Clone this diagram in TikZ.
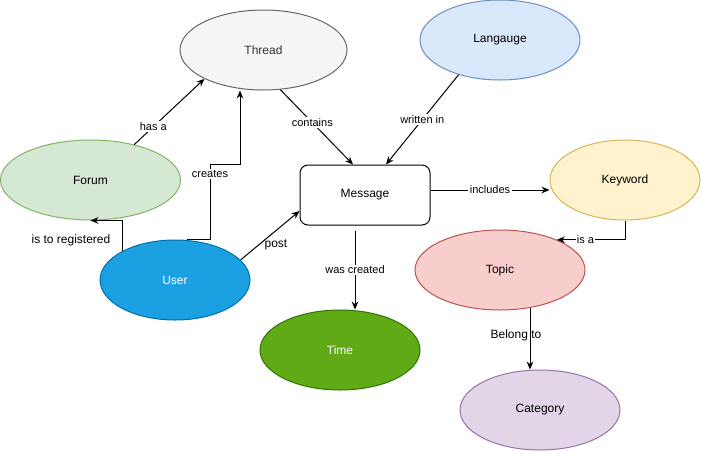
\documentclass[tikz,border=0pt]{standalone}
\usepackage{fontspec}
\setmainfont{Liberation Sans}
\usetikzlibrary{arrows.meta,shapes.geometric,calc}
\definecolor{threadfill}{HTML}{F5F5F5}
\definecolor{threaddraw}{HTML}{666666}
\definecolor{threadtext}{HTML}{333333}
\definecolor{forumfill}{HTML}{D5E8D4}
\definecolor{forumdraw}{HTML}{82B366}
\definecolor{langfill}{HTML}{DAE8FC}
\definecolor{langdraw}{HTML}{6C8EBF}
\definecolor{keyfill}{HTML}{FFF2CC}
\definecolor{keydraw}{HTML}{D6B656}
\definecolor{userfill}{HTML}{1BA1E2}
\definecolor{userdraw}{HTML}{006EAF}
\definecolor{timefill}{HTML}{60A917}
\definecolor{timedraw}{HTML}{2D7600}
\definecolor{topicfill}{HTML}{F8CECC}
\definecolor{topicdraw}{HTML}{B85450}
\definecolor{catfill}{HTML}{E1D5E7}
\definecolor{catdraw}{HTML}{9673A6}

\begin{document}
\begin{tikzpicture}[x=0.75pt, y=-0.75pt,
		>={Stealth[length=6pt,width=5pt]},
		ent/.style n args={4}{ellipse, draw=#2, fill=#1, line width=0.75pt, minimum width=#3*0.75pt, minimum height=#4*0.75pt, inner sep=0pt, font=\fontsize{9}{11}\selectfont},
		txt/.style={inner sep=1pt, font=\fontsize{9}{11}\selectfont},
		lbl/.style={fill=white, inner sep=1pt, font=\fontsize{8.25}{10}\selectfont},
		link/.style={->, line width=0.75pt}]
			\useasboundingbox (0,0) rectangle (701,451);
			% entities
			\node[ent={threadfill}{threaddraw}{167}{80}, text=threadtext] (Thread) at (263.5,50) {Thread};
			\node[ent={forumfill}{forumdraw}{180}{80}] (Forum) at (90.5,180) {Forum};
			\node[ent={langfill}{langdraw}{160}{80}] (Lang) at (500,40) {Langauge};
			\node[ent={keyfill}{keydraw}{150}{80}] (Keyword) at (625,180) {Keyword};
			\node[ent={userfill}{userdraw}{150}{80}, text=white] (User) at (175,280) {User};
			\node[ent={timefill}{timedraw}{160}{80}, text=white] (Time) at (340,350) {Time};
			\node[ent={topicfill}{topicdraw}{170}{80}] (Topic) at (500,270) {Topic};
			\node[ent={catfill}{catdraw}{160}{80}] (Category) at (540,410) {Category};
			\node[draw, fill=white, rounded corners=6pt, line width=0.75pt, minimum width=130*0.75pt, minimum height=60*0.75pt, font=\fontsize{9}{11}\selectfont] (Message) at (365,195) {Message};
			% relations
			\draw[link] (Forum.39) -- node[lbl, pos=0.27] {has a} (Thread.206);
			\draw[link] ($(User.north)+(12,0)$) -- ++(23,0) -- node[lbl, pos=0.87] {creates} ++(0,-75) -| ($(Thread.south)+(-23.5,0)$);
			\draw[link] (User.151) |- (Forum.south);
			\node[txt] (regLbl) at (71,240) {is to registered};
			\draw[link] (User.17) -- node[txt, pos=0.6, yshift=-10.5pt] {post} ($(Message.west)+(0,16)$);
			\draw[link] (Thread.-67.6) -- node[lbl, pos=0.44] {contains} ($(Message.north)+(-12,0)$);
			\draw[link] (Lang.220) -- node[lbl] {written in} ($(Message.north)+(21,0)$);
			\draw[link] ($(Message.east)+(0,-5)$) -- node[lbl] {includes} ($(Keyword.west)+(0,10)$);
			\draw[link] (Keyword.south) |- node[lbl, pos=0.79] {is a} (Topic.28);
			\draw[link] ($(Message.south)+(-10,5)$) coordinate (wasc) -- node[lbl] {was created} (wasc |- Time.north);
			\draw[link] ($(Topic.south)+(30,-2.6)$) coordinate (bel) -- node[txt, pos=0.44, xshift=-10.5pt] {Belong to} (bel |- Category.north);
		\end{tikzpicture}
\end{document}
